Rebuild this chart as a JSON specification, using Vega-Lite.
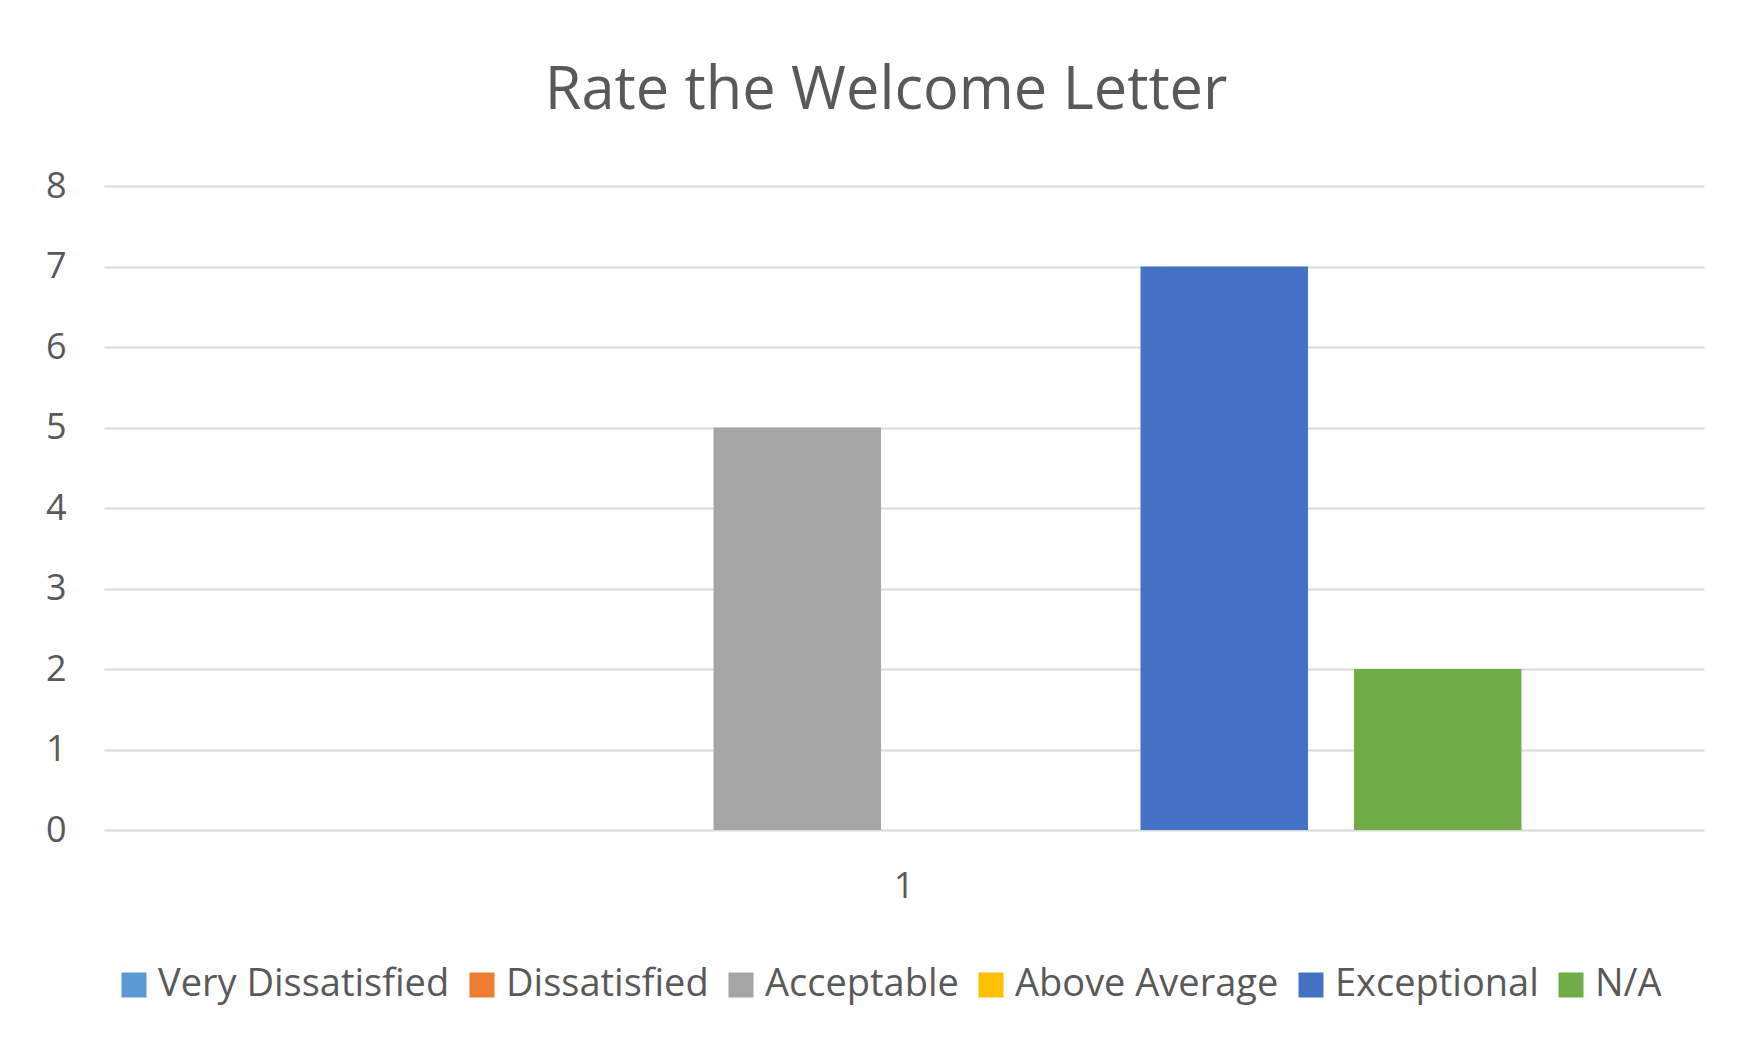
{
  "$schema": "https://vega.github.io/schema/vega-lite/v6.json",
  "autosize": "none",
  "width": 1600,
  "height": 644,
  "padding": {"left": 104, "top": 186, "right": 33, "bottom": 220},
  "background": "white",
  "title": {
    "text": "Rate the Welcome Letter",
    "font": "Open Sans",
    "fontSize": 59.5,
    "fontWeight": "normal",
    "color": "#595959",
    "anchor": "middle",
    "baseline": "alphabetic",
    "offset": 0,
    "dx": -18
  },
  "data": {
    "values": [
      {"group": "1", "rating": "Very Dissatisfied", "count": 0},
      {"group": "1", "rating": "Dissatisfied", "count": 0},
      {"group": "1", "rating": "Acceptable", "count": 5},
      {"group": "1", "rating": "Above Average", "count": 0},
      {"group": "1", "rating": "Exceptional", "count": 7},
      {"group": "1", "rating": "N/A", "count": 2}
    ]
  },
  "mark": {"type": "bar"},
  "encoding": {
    "x": {
      "field": "group",
      "type": "nominal",
      "scale": {"paddingInner": 0, "paddingOuter": 0.1478},
      "axis": {
        "title": null,
        "labelAngle": 0,
        "domain": false,
        "ticks": false,
        "labelPadding": 39,
        "labelFont": "Open Sans",
        "labelFontSize": 36,
        "labelColor": "#595959"
      }
    },
    "xOffset": {
      "field": "rating",
      "type": "nominal",
      "sort": ["Very Dissatisfied", "Dissatisfied", "Acceptable", "Above Average", "Exceptional", "N/A"],
      "scale": {"paddingInner": 0.2155, "paddingOuter": 0}
    },
    "y": {
      "field": "count",
      "type": "quantitative",
      "scale": {"domain": [0, 8], "nice": false},
      "axis": {
        "title": null,
        "values": [0, 1, 2, 3, 4, 5, 6, 7, 8],
        "domain": false,
        "ticks": false,
        "labelPadding": 38,
        "labelFont": "Open Sans",
        "labelFontSize": 36,
        "labelColor": "#595959",
        "gridColor": "#d9d9d9",
        "gridWidth": 2
      }
    },
    "color": {
      "field": "rating",
      "type": "nominal",
      "sort": ["Very Dissatisfied", "Dissatisfied", "Acceptable", "Above Average", "Exceptional", "N/A"],
      "scale": {
        "domain": ["Very Dissatisfied", "Dissatisfied", "Acceptable", "Above Average", "Exceptional", "N/A"],
        "range": ["#5B9BD5", "#ED7D31", "#A5A5A5", "#FFC000", "#4472C4", "#70AD47"]
      },
      "legend": {
        "title": null,
        "orient": "none",
        "direction": "horizontal",
        "legendX": 11,
        "legendY": 780,
        "symbolType": "square",
        "symbolSize": 625,
        "symbolStrokeWidth": 0,
        "symbolOpacity": 1,
        "labelFont": "Open Sans",
        "labelFontSize": 38,
        "labelColor": "#595959",
        "labelOffset": 5,
        "labelLimit": 0,
        "columnPadding": 13,
        "padding": 0
      }
    }
  },
  "config": {
    "view": {"stroke": null}
  }
}
